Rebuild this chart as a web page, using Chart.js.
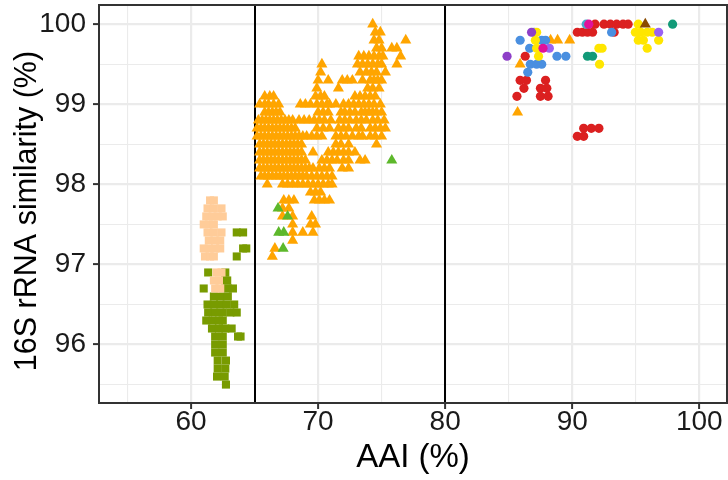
<!DOCTYPE html>
<html>
<head>
<meta charset="utf-8">
<script src="https://cdn.jsdelivr.net/npm/chart.js@4.4.1/dist/chart.umd.min.js"></script>
<style>
  html, body { margin: 0; padding: 0; background: #fff; }
  #wrap { width: 728px; height: 480px; }
</style>
</head>
<body>
<div id="wrap"><canvas id="chart" width="728" height="480"></canvas></div>
<script>
// axes
const xRange = [52.76, 102.18];
const yRange = [95.27, 100.24];
const xMajor = [60, 70, 80, 90, 100];
const xMinor = [55, 65, 75, 85, 95];
const yMajor = [96, 97, 98, 99, 100];
const yMinor = [95.5, 96.5, 97.5, 98.5, 99.5];
const cutoffs = [65, 80];
const xTitle = 'AAI (%)';
const yTitle = '16S rRNA similarity (%)';

// points, grouped by 16S row: [y, [x, x, ...]]
const peachRows = [
  [97.8, [61.5, 61.8]],
  [97.7, [61.3, 61.8, 62.4]],
  [97.6, [61.2, 61.7, 62.1, 62.5]],
  [97.5, [61.0, 61.4, 61.8]],
  [97.4, [61.3, 61.8, 62.4]],
  [97.3, [61.4, 61.9, 62.3]],
  [97.2, [61.0, 61.4, 61.9, 62.3]],
  [97.1, [61.1, 61.5, 61.8]],
  [96.9, [62.0, 62.4]],
  [96.8, [61.8, 62.2]],
  [96.7, [61.9, 62.3]]
];
const oliveRows = [
  [97.4, [63.6, 64.1]],
  [97.2, [64.1, 64.35]],
  [97.1, [63.6]],
  [96.9, [61.35, 62.7]],
  [96.8, [62.7, 62.85]],
  [96.7, [61.0, 62.9, 63.3]],
  [96.6, [61.8, 62.3, 62.9]],
  [96.5, [61.3, 61.8, 62.3, 62.8, 63.4]],
  [96.4, [61.35, 61.9, 62.5, 63.1, 63.6]],
  [96.3, [61.2, 61.7, 62.2, 62.5]],
  [96.2, [61.65, 62.2, 62.7, 63.2]],
  [96.1, [61.9, 62.5, 63.7, 63.9]],
  [96.0, [61.9, 62.5]],
  [95.9, [61.9, 62.5]],
  [95.8, [62.1, 62.75]],
  [95.7, [62.1, 62.7]],
  [95.6, [62.05, 62.65]],
  [95.5, [62.75]]
];
const orangeRows = [
  [100.0, [74.3]],
  [99.9, [74.5, 74.9]],
  [99.8, [74.4, 74.8, 76.9, 88.3, 88.85, 89.8]],
  [99.7, [74.6, 75.0, 75.8, 76.2]],
  [99.6, [73.2, 73.6, 74.0, 74.4, 74.8, 75.1, 76.5]],
  [99.5, [70.3, 73.1, 73.5, 73.9, 74.3, 74.7, 75.0, 76.2, 85.9]],
  [99.4, [70.2, 73.3, 73.8, 74.2, 74.6, 75.3]],
  [99.3, [70.0, 70.8, 71.9, 72.3, 72.7, 73.5, 74.1, 74.4, 74.7, 75.0]],
  [99.2, [69.9, 71.6, 73.9, 74.3, 74.8]],
  [99.1, [65.8, 66.2, 66.5, 69.8, 70.2, 70.5, 72.9, 73.3, 73.7, 74.1, 74.5]],
  [99.0, [65.4, 65.8, 66.1, 66.5, 66.9, 68.6, 69.0, 69.4, 69.9, 70.3, 70.7, 70.9, 71.4, 72.0, 72.4, 72.8, 73.2, 73.6, 74.0, 74.4, 74.9]],
  [98.9, [65.8, 66.1, 66.4, 66.7, 67.0, 70.0, 70.4, 70.8, 71.8, 72.1, 72.5, 72.9, 73.4, 73.7, 74.0, 74.3, 74.6, 75.0, 85.7]],
  [98.8, [65.3, 65.6, 65.9, 66.2, 66.5, 66.8, 67.1, 67.4, 67.7, 68.0, 68.5, 68.9, 69.3, 69.7, 70.1, 70.5, 71.0, 71.7, 72.1, 72.5, 73.0, 73.4, 73.8, 74.3, 74.7, 75.2]],
  [98.7, [65.2, 65.5, 65.8, 66.1, 66.4, 66.7, 67.0, 67.3, 67.6, 67.9, 68.2, 69.9, 70.4, 70.9, 71.6, 72.0, 72.4, 73.0, 73.4, 74.1, 74.5, 74.9, 75.3]],
  [98.6, [65.2, 65.5, 65.8, 66.1, 66.4, 66.7, 67.0, 67.3, 67.6, 67.9, 68.2, 68.5, 68.8, 69.1, 69.5, 69.9, 70.3, 71.4, 71.8, 72.2, 72.7, 73.2, 73.5, 74.1, 74.5, 75.0]],
  [98.5, [65.4, 65.7, 66.0, 66.3, 66.6, 66.9, 67.2, 67.5, 67.8, 68.1, 68.4, 68.7, 71.4, 71.8, 72.4, 74.6]],
  [98.4, [65.4, 65.7, 66.0, 66.3, 66.6, 66.9, 67.2, 67.5, 67.8, 68.1, 68.4, 68.7, 69.6, 70.8, 71.2, 71.6, 72.0, 72.4, 72.9]],
  [98.3, [65.4, 65.7, 66.0, 66.3, 66.6, 66.9, 67.2, 67.5, 67.8, 68.1, 68.4, 68.7, 69.0, 70.3, 70.7, 71.1, 71.5, 72.0, 72.4, 73.3, 73.7]],
  [98.2, [65.4, 65.7, 66.0, 66.3, 66.6, 66.9, 67.2, 67.5, 67.8, 68.1, 68.4, 68.7, 69.0, 69.3, 69.6, 70.1, 70.5, 70.9, 71.9, 72.4]],
  [98.1, [65.5, 65.8, 66.1, 66.4, 66.7, 67.0, 67.3, 67.6, 67.9, 68.2, 68.5, 68.8, 69.1, 69.5, 69.9, 70.3, 70.7, 71.1]],
  [98.0, [66.0, 67.2, 67.6, 68.0, 68.4, 68.8, 69.2, 69.6, 70.0, 70.4, 70.8, 71.1]],
  [97.9, [69.4, 69.8, 70.2]],
  [97.8, [67.3, 67.7, 68.1, 69.7, 70.1, 70.5, 70.9]],
  [97.7, [67.2, 67.7]],
  [97.6, [67.2, 68.0, 69.5]],
  [97.5, [68.0, 69.4, 69.8]],
  [97.4, [68.0, 68.8, 69.6]],
  [97.3, [68.0]],
  [97.2, [66.6]],
  [97.1, [66.4]]
];
const greenTri = [[66.85, 97.7], [67.6, 97.6], [66.9, 97.4], [67.3, 97.4], [67.25, 97.2], [75.8, 98.3]];
const redPts = [[86.3, 99.6], [85.9, 99.3], [86.4, 99.3], [86.2, 99.2], [85.65, 99.1], [87.9, 99.3],
  [87.5, 99.2], [88.0, 99.2], [87.5, 99.1], [88.1, 99.1], [91.8, 100], [92.5, 100], [93.0, 100],
  [93.5, 100], [94.0, 100], [94.4, 100], [90.4, 99.9], [90.8, 99.9], [91.2, 99.9], [91.6, 99.9],
  [93.3, 99.9], [90.9, 98.7], [91.5, 98.7], [92.1, 98.7], [90.4, 98.6], [90.9, 98.6]];
const bluePts = [[85.9, 99.8], [87.0, 99.9], [87.6, 99.8], [87.9, 99.8], [86.65, 99.7], [88.8, 99.6],
  [89.5, 99.6], [86.7, 99.5], [87.2, 99.5], [87.6, 99.5], [86.5, 99.4], [93.1, 99.9]];
const yellowPts = [[87.2, 99.9], [87.1, 99.8], [87.2, 99.7], [87.35, 99.6], [92.1, 99.7], [92.35, 99.7],
  [92.15, 99.5], [95.2, 100], [94.97, 99.9], [95.4, 99.9], [95.9, 99.9], [96.3, 99.9], [95.2, 99.8],
  [95.6, 99.8], [96.8, 99.8], [95.9, 99.7]];
const purplePts = [[84.87, 99.6], [86.8, 99.9]];
const violetPts = [[88.2, 99.7], [96.8, 99.9]];
const tealPts = [[91.2, 99.6], [91.6, 99.6], [97.9, 100]];
const cyanPts = [[91.1, 100]];
const magentaPts = [[91.3, 100], [87.7, 99.7]];
const brownTri = [[95.75, 100]];

function fromRows(rows) {
  const out = [];
  rows.forEach(([y, xs]) => xs.forEach(x => out.push({ x: x, y: y })));
  return out;
}
function fromPairs(pairs) {
  return pairs.map(([x, y]) => ({ x: x, y: y }));
}

// bottom to top drawing order
const layers = [
  { data: fromRows(oliveRows), color: '#789B00', style: 'rect', r: 5.7 },
  { data: fromRows(peachRows), color: '#FFCC99', style: 'rect', r: 5.7 },
  { data: fromRows(orangeRows), color: '#FFA500', style: 'triangle', r: 6.4 },
  { data: fromPairs(greenTri), color: '#5DB82B', style: 'triangle', r: 6.4 },
  { data: fromPairs(redPts), color: '#DB2020', style: 'circle', r: 4.6 },
  { data: fromPairs(bluePts), color: '#4A8FE0', style: 'circle', r: 4.6 },
  { data: fromPairs(yellowPts), color: '#FFE600', style: 'circle', r: 4.6 },
  { data: fromPairs(purplePts), color: '#8E3FC8', style: 'circle', r: 4.6 },
  { data: fromPairs(violetPts), color: '#9A62F2', style: 'circle', r: 4.6 },
  { data: fromPairs(tealPts), color: '#129A78', style: 'circle', r: 4.6 },
  { data: fromPairs(cyanPts), color: '#48AACA', style: 'circle', r: 4.6 },
  { data: fromPairs(magentaPts), color: '#E0129A', style: 'circle', r: 4.6 },
  { data: fromPairs(brownTri), color: '#8B4A00', style: 'triangle', r: 6.4 }
];

const datasets = layers.map((l, i) => ({
  data: l.data,
  backgroundColor: l.color,
  borderWidth: 0,
  pointStyle: l.style,
  pointRadius: l.r,
  pointHoverRadius: l.r,
  order: layers.length - i
}));

const FONT = 'Liberation Sans, Arial, Helvetica, sans-serif';

// vertical cutoff lines, panel border and the y title
const panelPlugin = {
  id: 'panel',
  beforeDatasetsDraw(chart) {
    const { ctx, chartArea, scales } = chart;
    ctx.save();
    ctx.strokeStyle = '#000';
    ctx.lineWidth = 2;
    cutoffs.forEach(v => {
      const px = Math.round(scales.x.getPixelForValue(v));
      ctx.beginPath();
      ctx.moveTo(px, chartArea.top);
      ctx.lineTo(px, chartArea.bottom);
      ctx.stroke();
    });
    ctx.restore();
  },
  afterDatasetsDraw(chart) {
    const { ctx, chartArea } = chart;
    ctx.save();
    ctx.strokeStyle = '#333333';
    ctx.lineWidth = 2;
    ctx.strokeRect(chartArea.left, chartArea.top, chartArea.right - chartArea.left, chartArea.bottom - chartArea.top);
    ctx.restore();
  },
  afterDraw(chart) {
    const { ctx, chartArea } = chart;
    ctx.save();
    ctx.translate(27.5, (chartArea.top + chartArea.bottom) / 2 + 7);
    ctx.rotate(-Math.PI / 2);
    ctx.font = '30.5px ' + FONT;
    ctx.fillStyle = '#000';
    ctx.textAlign = 'center';
    ctx.textBaseline = 'middle';
    ctx.fillText(yTitle, 0, 0);
    ctx.restore();
  }
};

function tickSetup(major, minor) {
  return scale => {
    scale.ticks = major.concat(minor).sort((a, b) => a - b).map(v => ({ value: v }));
  };
}
function isMajor(list, v) {
  return list.some(m => Math.abs(m - v) < 1e-6);
}

new Chart(document.getElementById('chart'), {
  type: 'scatter',
  data: { datasets: datasets },
  options: {
    responsive: false,
    animation: false,
    devicePixelRatio: 1,
    layout: { autoPadding: false, padding: { top: 5, right: 1, left: 0, bottom: 0 } },
    plugins: { legend: { display: false }, tooltip: { enabled: false } },
    scales: {
      x: {
        type: 'linear',
        min: xRange[0],
        max: xRange[1],
        afterBuildTicks: tickSetup(xMajor, xMinor),
        afterFit: s => { s.height = 77; s.paddingLeft = 0; s.paddingRight = 0; },
        border: { display: false },
        grid: {
          color: '#EBEBEB',
          lineWidth: c => isMajor(xMajor, c.tick.value) ? 2.2 : 1.1,
          tickColor: c => isMajor(xMajor, c.tick.value) ? '#333333' : 'rgba(0,0,0,0)',
          tickWidth: 2,
          tickLength: 6
        },
        ticks: {
          color: '#1a1a1a',
          padding: -4,
          maxRotation: 0,
          autoSkip: false,
          font: { family: FONT, size: 28 },
          callback: v => isMajor(xMajor, v) ? String(v) : ''
        },
        title: {
          display: true,
          text: xTitle,
          color: '#000',
          font: { family: FONT, size: 33 },
          padding: { top: 0, bottom: 2 }
        }
      },
      y: {
        type: 'linear',
        min: yRange[0],
        max: yRange[1],
        afterBuildTicks: tickSetup(yMajor, yMinor),
        afterFit: s => { s.width = 99; s.paddingTop = 0; s.paddingBottom = 0; },
        border: { display: false },
        grid: {
          color: '#EBEBEB',
          lineWidth: c => isMajor(yMajor, c.tick.value) ? 2.2 : 1.1,
          tickColor: c => isMajor(yMajor, c.tick.value) ? '#333333' : 'rgba(0,0,0,0)',
          tickWidth: 2,
          tickLength: 6
        },
        ticks: {
          color: '#1a1a1a',
          padding: 7,
          autoSkip: false,
          font: { family: FONT, size: 28 },
          callback: v => isMajor(yMajor, v) ? String(v) : ''
        },
        title: { display: false }
      }
    }
  },
  plugins: [panelPlugin]
});
</script>
</body>
</html>
